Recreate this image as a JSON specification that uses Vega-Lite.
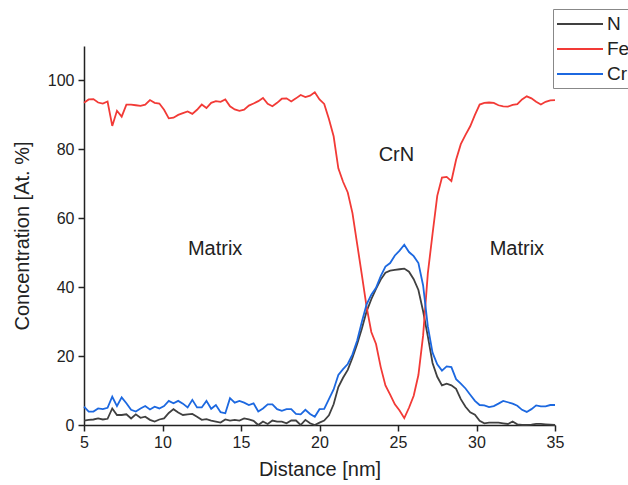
{
  "$schema": "https://vega.github.io/schema/vega-lite/v6.json",
  "width": 471,
  "height": 379,
  "autosize": {"type": "none"},
  "padding": {"left": 84, "top": 46, "right": 73, "bottom": 60},
  "config": {"view": {"stroke": null}, "font": "Liberation Sans"},
  "layer": [
    {
      "data": {"values": [
        {"d":5,"N":1.3,"Fe":93.5,"Cr":5.3},{"d":5.3,"N":1.5,"Fe":94.5,"Cr":3.9},{"d":5.6,"N":1.6,"Fe":94.6,"Cr":3.9},{"d":5.9,"N":1.9,"Fe":93.6,"Cr":4.8},{"d":6.2,"N":1.6,"Fe":93.3,"Cr":4.6},
        {"d":6.5,"N":1.8,"Fe":93.9,"Cr":5.0},{"d":6.8,"N":4.8,"Fe":86.8,"Cr":8.2},{"d":7.1,"N":2.9,"Fe":91.2,"Cr":5.5},{"d":7.4,"N":2.9,"Fe":89.5,"Cr":8.0},{"d":7.7,"N":3.1,"Fe":93.0,"Cr":6.3},
        {"d":8,"N":1.9,"Fe":93.0,"Cr":4.4},{"d":8.3,"N":3.1,"Fe":92.8,"Cr":3.9},{"d":8.6,"N":2.1,"Fe":92.6,"Cr":4.8},{"d":8.9,"N":2.4,"Fe":93.0,"Cr":5.5},{"d":9.2,"N":1.5,"Fe":94.3,"Cr":4.5},
        {"d":9.5,"N":1.0,"Fe":93.5,"Cr":5.3},{"d":9.8,"N":1.6,"Fe":93.3,"Cr":4.8},{"d":10.1,"N":1.9,"Fe":91.5,"Cr":5.5},{"d":10.4,"N":3.5,"Fe":89.0,"Cr":7.0},{"d":10.7,"N":4.6,"Fe":89.2,"Cr":6.3},
        {"d":11,"N":3.6,"Fe":90.0,"Cr":7.0},{"d":11.3,"N":2.9,"Fe":90.5,"Cr":6.2},{"d":11.6,"N":3.1,"Fe":91.0,"Cr":5.1},{"d":11.9,"N":3.2,"Fe":90.3,"Cr":7.3},{"d":12.2,"N":2.4,"Fe":91.5,"Cr":5.1},
        {"d":12.5,"N":1.5,"Fe":93.0,"Cr":5.1},{"d":12.8,"N":1.7,"Fe":92.0,"Cr":7.0},{"d":13.1,"N":1.3,"Fe":93.5,"Cr":4.7},{"d":13.4,"N":1.0,"Fe":94.0,"Cr":5.8},{"d":13.7,"N":0.7,"Fe":93.8,"Cr":3.7},
        {"d":14,"N":1.6,"Fe":94.5,"Cr":3.4},{"d":14.3,"N":1.3,"Fe":92.5,"Cr":7.8},{"d":14.6,"N":1.5,"Fe":91.6,"Cr":6.5},{"d":14.9,"N":1.3,"Fe":91.2,"Cr":7.0},{"d":15.2,"N":1.9,"Fe":91.5,"Cr":6.5},
        {"d":15.5,"N":1.6,"Fe":92.7,"Cr":5.8},{"d":15.8,"N":1.2,"Fe":93.3,"Cr":6.3},{"d":16.1,"N":0.0,"Fe":94.0,"Cr":3.9},{"d":16.4,"N":1.0,"Fe":94.9,"Cr":4.8},{"d":16.7,"N":0.3,"Fe":93.2,"Cr":6.0},
        {"d":17,"N":1.3,"Fe":92.5,"Cr":6.0},{"d":17.3,"N":1.0,"Fe":93.5,"Cr":4.6},{"d":17.6,"N":1.0,"Fe":94.7,"Cr":4.1},{"d":17.9,"N":0.5,"Fe":94.8,"Cr":4.6},{"d":18.2,"N":1.3,"Fe":93.9,"Cr":4.6},
        {"d":18.5,"N":1.3,"Fe":94.8,"Cr":3.2},{"d":18.8,"N":0.0,"Fe":95.8,"Cr":3.1},{"d":19.1,"N":1.5,"Fe":95.2,"Cr":4.4},{"d":19.4,"N":0.5,"Fe":95.6,"Cr":3.2},{"d":19.7,"N":0.0,"Fe":96.6,"Cr":2.4},
        {"d":20,"N":0.7,"Fe":94.5,"Cr":4.6},{"d":20.3,"N":1.3,"Fe":93.2,"Cr":4.7},{"d":20.6,"N":2.8,"Fe":88.8,"Cr":7.5},{"d":20.9,"N":6.0,"Fe":83.8,"Cr":10.3},{"d":21.2,"N":11.0,"Fe":74.5,"Cr":14.5},
        {"d":21.5,"N":13.7,"Fe":70.6,"Cr":16.2},{"d":21.8,"N":16.0,"Fe":67.5,"Cr":17.7},{"d":22.1,"N":19.5,"Fe":61.5,"Cr":20.5},{"d":22.4,"N":23.5,"Fe":52.5,"Cr":24.5},{"d":22.7,"N":28.0,"Fe":43.5,"Cr":30.0},
        {"d":23,"N":33.0,"Fe":34.3,"Cr":35.0},{"d":23.3,"N":36.5,"Fe":27.0,"Cr":37.8},{"d":23.6,"N":39.5,"Fe":23.5,"Cr":39.8},{"d":23.9,"N":42.2,"Fe":16.8,"Cr":43.2},{"d":24.2,"N":44.2,"Fe":11.5,"Cr":46.0},
        {"d":24.5,"N":44.8,"Fe":8.8,"Cr":47.0},{"d":24.8,"N":45.0,"Fe":6.0,"Cr":49.2},{"d":25.1,"N":45.2,"Fe":4.2,"Cr":50.6},{"d":25.4,"N":45.4,"Fe":2.0,"Cr":52.3},{"d":25.7,"N":44.5,"Fe":5.0,"Cr":50.2},
        {"d":26,"N":42.3,"Fe":8.5,"Cr":49.0},{"d":26.3,"N":39.2,"Fe":14.5,"Cr":47.0},{"d":26.6,"N":33.0,"Fe":26.0,"Cr":40.5},{"d":26.9,"N":25.7,"Fe":44.0,"Cr":28.6},{"d":27.2,"N":18.0,"Fe":55.5,"Cr":21.0},
        {"d":27.5,"N":14.0,"Fe":66.5,"Cr":17.6},{"d":27.8,"N":11.5,"Fe":71.8,"Cr":15.8},{"d":28.1,"N":12.0,"Fe":72.0,"Cr":17.0},{"d":28.4,"N":11.5,"Fe":70.8,"Cr":16.8},{"d":28.7,"N":10.5,"Fe":77.0,"Cr":13.3},
        {"d":29,"N":7.5,"Fe":81.5,"Cr":12.0},{"d":29.3,"N":5.3,"Fe":84.2,"Cr":10.6},{"d":29.6,"N":3.7,"Fe":86.7,"Cr":8.8},{"d":29.9,"N":3.0,"Fe":90.0,"Cr":7.0},{"d":30.2,"N":1.2,"Fe":93.0,"Cr":5.8},
        {"d":30.5,"N":0.5,"Fe":93.5,"Cr":5.7},{"d":30.8,"N":0.7,"Fe":93.6,"Cr":5.2},{"d":31.1,"N":0.7,"Fe":93.5,"Cr":5.5},{"d":31.4,"N":0.7,"Fe":92.8,"Cr":6.2},{"d":31.7,"N":0.5,"Fe":92.5,"Cr":7.0},
        {"d":32,"N":0.3,"Fe":92.4,"Cr":6.6},{"d":32.3,"N":1.0,"Fe":92.9,"Cr":6.2},{"d":32.6,"N":0.2,"Fe":93.1,"Cr":5.6},{"d":32.9,"N":0.0,"Fe":94.5,"Cr":4.4},{"d":33.2,"N":0.0,"Fe":95.4,"Cr":3.8},
        {"d":33.5,"N":0.1,"Fe":94.8,"Cr":4.6},{"d":33.8,"N":0.3,"Fe":93.8,"Cr":5.7},{"d":34.1,"N":0.3,"Fe":93.0,"Cr":5.4},{"d":34.4,"N":0.2,"Fe":93.8,"Cr":5.4},{"d":34.7,"N":0.1,"Fe":94.2,"Cr":5.8},
        {"d":35,"N":0.0,"Fe":94.3,"Cr":5.8}
      ]},
      "transform": [{"fold": ["N", "Fe", "Cr"], "as": ["el", "v"]}],
      "mark": {"type": "line", "strokeWidth": 1.8},
      "encoding": {
        "x": {
          "field": "d", "type": "quantitative",
          "scale": {"domain": [5, 35], "nice": false, "zero": false},
          "axis": {
            "values": [5, 7.5, 10, 12.5, 15, 17.5, 20, 22.5, 25, 27.5, 30, 32.5, 35],
            "labelExpr": "datum.value % 5 === 0 ? '' + datum.value : ''",
            "title": "Distance [nm]", "grid": false,
            "domainColor": "#222", "domainWidth": 1.5, "tickColor": "#222", "tickWidth": 1.5, "tickSize": 6,
            "labelFontSize": 16, "labelColor": "#222", "labelPadding": 3, "labelFlush": false,
            "titleFontSize": 20, "titleFontWeight": "normal", "titleColor": "#222", "titlePadding": 9
          }
        },
        "y": {
          "field": "v", "type": "quantitative",
          "scale": {"domain": [0, 110], "nice": false},
          "axis": {
            "values": [0, 10, 20, 30, 40, 50, 60, 70, 80, 90, 100],
            "labelExpr": "datum.value % 20 === 0 ? '' + datum.value : ''",
            "title": "Concentration [At. %]", "grid": false,
            "domainColor": "#222", "domainWidth": 1.5, "tickColor": "#222", "tickWidth": 1.5, "tickSize": 6,
            "labelFontSize": 16, "labelColor": "#222", "labelPadding": 4,
            "titleFontSize": 20, "titleFontWeight": "normal", "titleColor": "#222", "titlePadding": 15
          }
        },
        "color": {
          "field": "el", "type": "nominal",
          "scale": {"domain": ["N", "Fe", "Cr"], "range": ["#404040", "#f23a36", "#1c68e0"]},
          "legend": {
            "orient": "none", "legendX": 469, "legendY": -37, "title": null,
            "symbolType": "M-2.3,0H2.3", "symbolSize": 400, "symbolStrokeWidth": 2, "symbolOffset": 12,
            "labelFontSize": 19, "labelColor": "#222", "labelOffset": 16,
            "strokeColor": "#888", "fillColor": "white", "padding": 4, "rowPadding": 4
          }
        }
      }
    },
    {
      "data": {"values": [
        {"x": 13.35, "y": 51, "t": "Matrix"},
        {"x": 32.57, "y": 51, "t": "Matrix"},
        {"x": 24.9, "y": 78.3, "t": "CrN"}
      ]},
      "mark": {"type": "text", "fontSize": 20, "color": "#222"},
      "encoding": {
        "x": {"field": "x", "type": "quantitative"},
        "y": {"field": "y", "type": "quantitative"},
        "text": {"field": "t"}
      }
    }
  ]
}
